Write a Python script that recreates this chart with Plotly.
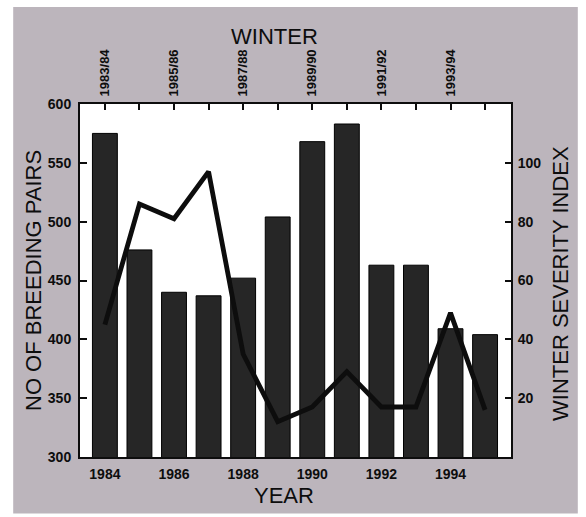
import plotly.graph_objects as go

years = [1984, 1985, 1986, 1987, 1988, 1989, 1990, 1991, 1992, 1993, 1994, 1995]
breeding_pairs = [575, 476, 440, 437, 452, 504, 568, 583, 463, 463, 409, 404]
severity_index = [45, 86, 81, 97, 35, 12, 17, 29, 17, 17, 49, 16]
winter_labels = ["1983/84", "", "1985/86", "", "1987/88", "", "1989/90", "", "1991/92", "", "1993/94", ""]
year_ticks = [1984, 1986, 1988, 1990, 1992, 1994]
left_ticks = [300, 350, 400, 450, 500, 550, 600]
right_ticks = [20, 40, 60, 80, 100]

FONT = "Liberation Sans, Arial, Helvetica, sans-serif"
INK = "#0d0d0d"
xr = [1983.28, 1995.75]

fig = go.Figure()
fig.add_trace(go.Bar(
    x=years, y=breeding_pairs, width=0.72,
    marker=dict(color="#262626", line=dict(color="#000000", width=1)),
    xaxis="x", yaxis="y", showlegend=False, hoverinfo="x+y",
))
fig.add_trace(go.Scatter(
    x=years, y=severity_index, mode="lines",
    line=dict(color=INK, width=4.8),
    xaxis="x", yaxis="y2", showlegend=False,
))
# invisible trace so the top axis is drawn
fig.add_trace(go.Scatter(
    x=years, y=breeding_pairs, mode="markers", marker=dict(opacity=0),
    xaxis="x2", yaxis="y", showlegend=False, hoverinfo="skip",
))

tickfont = dict(family=FONT, size=14, color=INK, weight="bold")
topfont = dict(family=FONT, size=13, color=INK, weight="bold")
titlefont = dict(family=FONT, size=22, color=INK)

fig.update_layout(
    width=586, height=517,
    margin=dict(l=80, r=75, t=104, b=60),
    paper_bgcolor="#ffffff",
    plot_bgcolor="#ffffff",
    xaxis=dict(
        range=xr, tickvals=year_ticks, ticktext=[str(y) for y in year_ticks],
        ticks="", showgrid=False, zeroline=False,
        showline=True, linecolor=INK, linewidth=2,
        tickfont=tickfont, ticklabelstandoff=3,
    ),
    xaxis2=dict(
        range=xr, overlaying="x", side="top", anchor="y",
        tickvals=years, ticktext=winter_labels, tickangle=-90,
        ticks="inside", ticklen=6, tickwidth=1.5, tickcolor=INK,
        showgrid=False, zeroline=False,
        showline=True, linecolor=INK, linewidth=2,
        tickfont=topfont, ticklabelstandoff=3,
    ),
    yaxis=dict(
        range=[300, 600], tickvals=left_ticks,
        ticks="inside", ticklen=7, tickwidth=1.5, tickcolor=INK,
        showgrid=False, zeroline=False,
        showline=True, linecolor=INK, linewidth=2,
        tickfont=tickfont, ticklabelstandoff=4,
    ),
    yaxis2=dict(
        range=[0, 120], tickvals=right_ticks, overlaying="y", side="right", anchor="x",
        ticks="inside", ticklen=6, tickwidth=1.5, tickcolor=INK,
        showgrid=False, zeroline=False,
        showline=True, linecolor=INK, linewidth=2,
        tickfont=tickfont, ticklabelstandoff=2,
    ),
    shapes=[
        dict(type="rect", xref="paper", yref="paper", x0=-0.155, x1=1.155, y0=-0.16, y1=1.275,
             fillcolor="#bcb5bc", line=dict(width=0), layer="below"),
        dict(type="rect", xref="paper", yref="paper", x0=0, x1=1, y0=0, y1=1,
             fillcolor="#ffffff", line=dict(width=0), layer="below"),
    ],
    annotations=[
        dict(text="WINTER", xref="paper", yref="paper", x=0.4524, y=1.19, showarrow=False,
             xanchor="center", yanchor="middle", font=titlefont),
        dict(text="YEAR", xref="paper", yref="paper", x=0.4733, y=-0.108, showarrow=False,
             xanchor="center", yanchor="middle", font=titlefont),
        dict(text="NO OF BREEDING PAIRS", xref="paper", yref="paper", x=-0.1067, y=0.4986,
             textangle=-90, showarrow=False, xanchor="center", yanchor="middle",
             font=titlefont),
        dict(text="WINTER SEVERITY INDEX", xref="paper", yref="paper", x=1.116, y=0.493,
             textangle=-90, showarrow=False, xanchor="center", yanchor="middle",
             font=titlefont),
    ],
)

fig.write_html("out.html", config={"displayModeBar": False},
               post_script="document.body.style.margin='0px';")
